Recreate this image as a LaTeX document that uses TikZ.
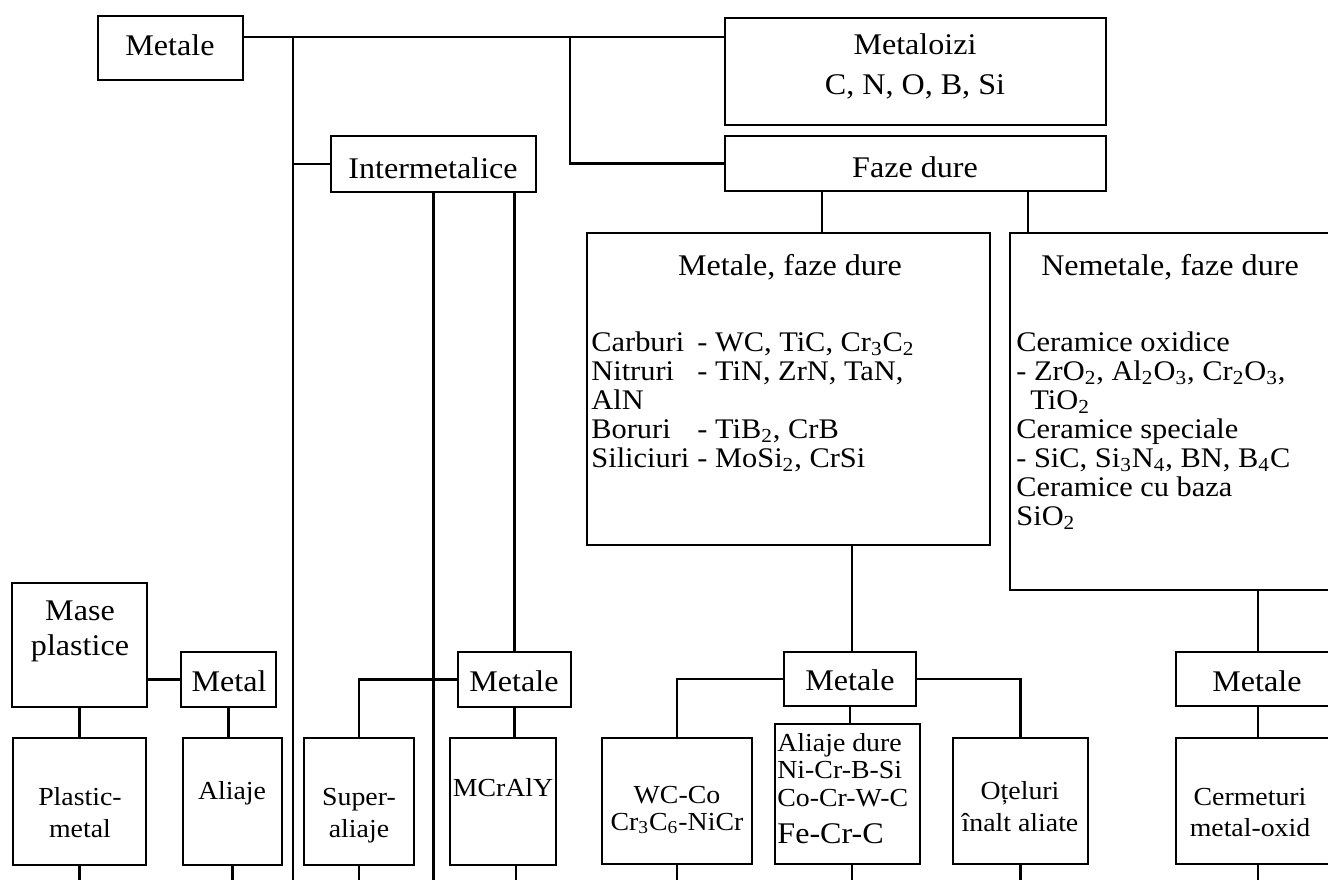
\documentclass[tikz,border=0pt]{standalone}
\usepackage{fontspec}
\setmainfont{Liberation Serif}[FakeStretch=1.07]
\usetikzlibrary{fit}
\newcommand\lbl[1]{\makebox[53pt][l]{#1}}
\begin{document}
\begin{tikzpicture}[x=0.5pt,y=-0.5pt,
  box/.style={draw,line width=1.2pt,inner sep=0pt},
  ln/.style={line width=1.2pt},
  big/.style={font=\fontsize{15}{15}\selectfont,inner sep=0pt},
  lst/.style={font=\fontsize{14.2}{14.2}\selectfont,inner sep=0pt},
  sml/.style={font=\fontsize{13}{13}\selectfont,inner sep=0pt},
]
\useasboundingbox (0,0) rectangle (1328,880);
% boxes
\node[box,fit={(98,16) (243,80)}] (metale) {};
\node[box,fit={(725,18) (1106,125)}] (metaloizi) {};
\node[box,fit={(331,136) (536,192)}] (inter) {};
\node[box,fit={(725,136) (1106,191)}] (faze) {};
\node[box,fit={(587,233) (990,545)}] (mfd) {};
\node[box,fit={(1010,233) (1345,590)}] (nfd) {};
\node[box,fit={(12,583) (147,707)}] (mase) {};
\node[box,fit={(181,652) (276,707)}] (metal) {};
\node[box,fit={(13,738) (146,865)}] (plastic) {};
\node[box,fit={(183,738) (282,865)}] (aliaje) {};
\node[box,fit={(304,738) (414,865)}] (super) {};
\node[box,fit={(458,652) (571,707)}] (metale2) {};
\node[box,fit={(450,738) (556,865)}] (mcraly) {};
\node[box,fit={(784,652) (916,706)}] (metale3) {};
\node[box,fit={(602,738) (752,864)}] (wcco) {};
\node[box,fit={(775,724) (920,864)}] (ad) {};
\node[box,fit={(953,738) (1088,864)}] (otel) {};
\node[box,fit={(1176,652) (1345,706)}] (metale4) {};
\node[box,fit={(1176,738) (1345,864)}] (cermet) {};
% texts
\node[big,anchor=base] (t-metale) at (170,55) {Metale};
\node[big,anchor=base] (t-mz1) at (915,54) {Metaloizi};
\node[big,anchor=base] (t-mz2) at (915,94) {C, N, O, B, Si};
\node[big,anchor=base] (t-inter) at (433,178) {Intermetalice};
\node[big,anchor=base] (t-faze) at (915,177) {Faze dure};
\node[big,anchor=base] (t-mfd) at (790,275) {Metale, faze dure};
\node[lst,anchor=base west] (t-m1) at (591,351) {\lbl{Carburi}- WC, TiC, Cr\textsubscript{3}C\textsubscript{2}};
\node[lst,anchor=base west] (t-m2) at (591,380) {\lbl{Nitruri}- TiN, ZrN, TaN,};
\node[lst,anchor=base west] (t-m3) at (591,409) {AlN};
\node[lst,anchor=base west] (t-m4) at (591,438) {\lbl{Boruri}- TiB\textsubscript{2}, CrB};
\node[lst,anchor=base west] (t-m5) at (591,467) {\lbl{Siliciuri}- MoSi\textsubscript{2}, CrSi};
\node[big,anchor=base] (t-nfd) at (1170,275) {Nemetale, faze dure};
\node[lst,anchor=base west] (t-n1) at (1016,351) {Ceramice oxidice};
\node[lst,anchor=base west] (t-n2) at (1016,380) {- ZrO\textsubscript{2}, Al\textsubscript{2}O\textsubscript{3}, Cr\textsubscript{2}O\textsubscript{3},};
\node[lst,anchor=base west] (t-n3) at (1030,409) {TiO\textsubscript{2}};
\node[lst,anchor=base west] (t-n4) at (1016,438) {Ceramice speciale};
\node[lst,anchor=base west] (t-n5) at (1016,467) {- SiC, Si\textsubscript{3}N\textsubscript{4}, BN, B\textsubscript{4}C};
\node[lst,anchor=base west] (t-n6) at (1016,496) {Ceramice cu baza};
\node[lst,anchor=base west] (t-n7) at (1016,525) {SiO\textsubscript{2}};
\node[big,anchor=base] (t-mase1) at (80,620) {Mase};
\node[big,anchor=base] (t-mase2) at (80,655) {plastice};
\node[big,anchor=base] (t-metal) at (229,691) {Metal};
\node[big,anchor=base] (t-metale2) at (514,691) {Metale};
\node[big,anchor=base] (t-metale3) at (850,690) {Metale};
\node[big,anchor=base] (t-metale4) at (1257,691) {Metale};
\node[sml,anchor=base] (t-pl1) at (80,805) {Plastic-};
\node[sml,anchor=base] (t-pl2) at (80,837) {metal};
\node[sml,anchor=base] (t-al) at (232,799) {Aliaje};
\node[sml,anchor=base] (t-su1) at (359,805) {Super-};
\node[sml,anchor=base] (t-su2) at (359,837) {aliaje};
\node[sml,anchor=base] (t-mc) at (503,796) {MCrAlY};
\node[sml,anchor=base] (t-wc1) at (677,803) {WC-Co};
\node[sml,anchor=base] (t-wc2) at (677,830) {Cr\textsubscript{3}C\textsubscript{6}-NiCr};
\node[sml,anchor=base west] (t-ad1) at (777,751) {Aliaje dure};
\node[sml,anchor=base west] (t-ad2) at (777,778) {Ni-Cr-B-Si};
\node[sml,anchor=base west] (t-ad3) at (777,806) {Co-Cr-W-C};
\node[big,anchor=base west] (t-ad4) at (777,843) {Fe-Cr-C};
\node[sml,anchor=base] (t-ot1) at (1020,799) {Oțeluri};
\node[sml,anchor=base] (t-ot2) at (1020,831) {înalt aliate};
\node[sml,anchor=base] (t-ce1) at (1250,805) {Cermeturi};
\node[sml,anchor=base] (t-ce2) at (1250,836) {metal-oxid};
% junction / end coordinates
\coordinate (jA) at (293,37);
\coordinate (jB) at (570,37);
\coordinate (bot) at (0,880);
\coordinate (f1) at (822,0);
\coordinate (f2) at (1028,0);
\coordinate (f3) at (852,0);
\coordinate (f4) at (1258,0);
\coordinate (x516) at (516,0);
% connectors
\draw[ln] (metale.east |- jA) -- (metaloizi.west |- jA);
\draw[ln] (jA) -- (jA |- bot);
\draw[ln] (inter.west) -- (inter.west -| jA);
\draw[ln] (jB) |- (faze.west);
\draw[ln] (inter.south) -- (inter.south |- bot);
\draw[ln] (inter.south -| metale2.north) -- (metale2.north);
\draw[ln] (metale2.west) -| (super.north);
\draw[ln] (metale2.south) -- (metale2.south |- mcraly.north);
\draw[ln] (metal.west) -- (metal.west -| mase.east);
\draw[ln] (mase.south) -- (mase.south |- plastic.north);
\draw[ln] (metal.south) -- (metal.south |- aliaje.north);
\draw[ln] (faze.south -| f1) -- (mfd.north -| f1);
\draw[ln] (faze.south -| f2) -- (nfd.north -| f2);
\draw[ln] (mfd.south -| f3) -- (metale3.north -| f3);
\draw[ln] (metale3.west) -| (wcco.north);
\draw[ln] (metale3.east) -| (otel.north);
\draw[ln] (metale3.south) -- (metale3.south |- ad.north);
\draw[ln] (nfd.south -| f4) -- (metale4.north -| f4);
\draw[ln] (metale4.south -| f4) -- (cermet.north -| f4);
% lines leaving the bottom row
\draw[ln] (plastic.south) -- (plastic.south |- bot);
\draw[ln] (aliaje.south) -- (aliaje.south |- bot);
\draw[ln] (super.south) -- (super.south |- bot);
\draw[ln] (mcraly.south -| x516) -- (x516 |- bot);
\draw[ln] (wcco.south) -- (wcco.south |- bot);
\draw[ln] (ad.south -| f3) -- (f3 |- bot);
\draw[ln] (otel.south) -- (otel.south |- bot);
\draw[ln] (cermet.south -| f4) -- (f4 |- bot);
\end{tikzpicture}
\end{document}
